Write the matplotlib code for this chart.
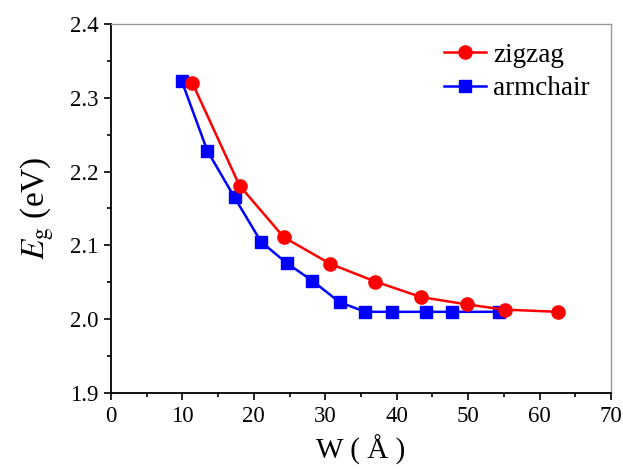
import matplotlib
matplotlib.use("Agg")
import matplotlib.pyplot as plt
from matplotlib.ticker import MultipleLocator

plt.rcParams['font.family'] = ['Liberation Serif', 'DejaVu Serif']
plt.rcParams['mathtext.fontset'] = 'stix'

# zigzag ribbons
zz_w = [11.4, 18.0, 24.2, 30.7, 37.0, 43.4, 49.8, 55.1, 62.5]
zz_eg = [2.320, 2.181, 2.111, 2.075, 2.051, 2.030, 2.020, 2.013, 2.010]

# armchair ribbons
ac_w = [9.9, 13.5, 17.3, 21.0, 24.6, 28.2, 32.0, 35.6, 39.4, 44.1, 47.7, 54.3]
ac_eg = [2.323, 2.228, 2.165, 2.105, 2.076, 2.052, 2.023, 2.010, 2.010, 2.010, 2.010, 2.010]

fig = plt.figure(figsize=(6.23, 4.69), dpi=100)
ax = fig.add_axes([0.178, 0.162, 0.803, 0.787])

ax.plot(zz_w, zz_eg, '-o', color='#ff0000', lw=1.8, markersize=9.5, label='zigzag', zorder=3)
ax.plot(ac_w, ac_eg, '-s', color='#0000ff', lw=1.8, markersize=8, label='armchair', zorder=2)

ax.set_xlim(0, 70)
ax.set_ylim(1.9, 2.4)
ax.xaxis.set_major_locator(MultipleLocator(10))
ax.xaxis.set_minor_locator(MultipleLocator(5))
ax.yaxis.set_major_locator(MultipleLocator(0.1))
ax.yaxis.set_minor_locator(MultipleLocator(0.05))
ax.yaxis.set_major_formatter(plt.FormatStrFormatter('%.1f'))

ax.tick_params(which='both', direction='out', top=False, right=False, labelsize=16.5)
ax.tick_params(which='major', length=5, width=1.2, pad=4)
ax.tick_params(which='minor', length=3, width=1.2)
for s in ['left', 'bottom']:
    ax.spines[s].set_linewidth(1.3)
for s in ['top', 'right']:
    ax.spines[s].set_color('#999999')
    ax.spines[s].set_linewidth(1.0)

ax.set_xlabel('W ( Å )', fontsize=21, labelpad=6)
ax.set_ylabel(r'$E_{\rm g}$ (eV)', fontsize=24, labelpad=10)

ax.legend(loc='upper right', frameon=False, fontsize=19.5, handlelength=1.55,
          handletextpad=0.25, labelspacing=0.3, borderaxespad=0.3,
          bbox_to_anchor=(0.995, 1.0))

fig.savefig('out.png', dpi=100)
